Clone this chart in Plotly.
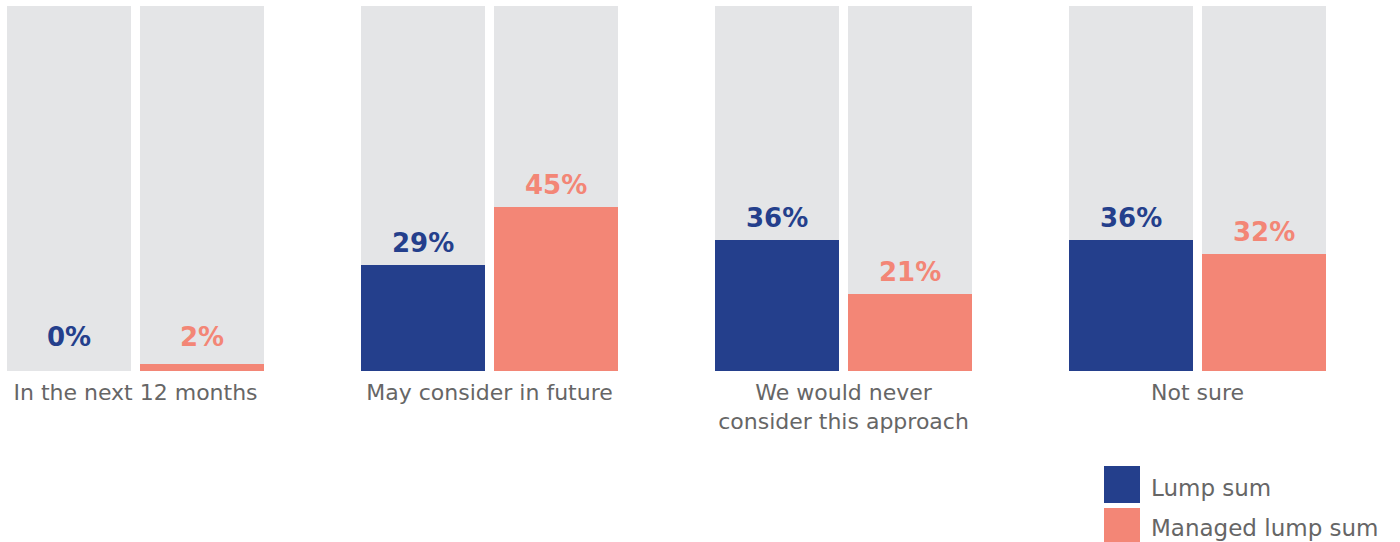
import plotly.graph_objects as go

# Survey responses: share of schemes by approach (percent)
categories = ["In the next 12 months", "May consider in future",
              "We would never<br>consider this approach", "Not sure"]
series_names = ["Lump sum", "Managed lump sum"]
lump_sum = [0, 29, 36, 36]
managed_lump_sum = [2, 45, 21, 32]
full_scale = [100, 100, 100, 100]

NAVY = "#243F8C"
SALMON = "#F38676"
GREY = "#E4E5E7"
TEXT = "#666666"
FONT = "DejaVu Sans"

offset = 0.1879
bar_w = 0.3503
idx = list(range(len(categories)))
x_lump = [i - offset for i in idx]
x_man = [i + offset for i in idx]

fig = go.Figure()

# grey 100% tracks behind each bar
for xs in (x_lump, x_man):
    fig.add_trace(go.Bar(x=xs, y=full_scale, width=bar_w, marker_color=GREY,
                         marker_line_width=0, showlegend=False, hoverinfo="skip"))

fig.add_trace(go.Bar(x=x_lump, y=lump_sum, width=bar_w, marker_color=NAVY,
                     marker_line_width=0, name=series_names[0], showlegend=False))
fig.add_trace(go.Bar(x=x_man, y=managed_lump_sum, width=bar_w, marker_color=SALMON,
                     marker_line_width=0, name=series_names[1], showlegend=False))

# value labels above each bar
for xs, vals, col in ((x_lump, lump_sum, NAVY), (x_man, managed_lump_sum, SALMON)):
    for x, v in zip(xs, vals):
        fig.add_annotation(x=x, y=max(v, 3.3), text=f"<b>{v}%</b>", showarrow=False,
                           yanchor="middle", yshift=22,
                           font=dict(family=FONT, size=26, color=col))

# legend drawn as swatches + labels
legend_rows = [(-0.2603, -0.3616, -0.3205), (-0.3753, -0.4740, -0.4301)]
for (y0, y1, yt), name, col in zip(legend_rows, series_names, (NAVY, SALMON)):
    fig.add_shape(type="rect", xref="paper", yref="paper",
                  x0=1104 / 1400, x1=1140 / 1400, y0=y1, y1=y0,
                  fillcolor=col, line_width=0)
    fig.add_annotation(xref="paper", yref="paper", x=1149 / 1400, y=yt,
                       text=name, showarrow=False, xanchor="left", yanchor="middle",
                       font=dict(family=FONT, size=23, color=TEXT))

fig.update_layout(
    barmode="overlay",
    width=1400, height=542,
    margin=dict(l=0, r=0, t=6, b=171),
    paper_bgcolor="white", plot_bgcolor="white",
    font=dict(family=FONT, size=22, color=TEXT),
    xaxis=dict(range=[-0.3828, 3.5720], tickvals=idx, ticktext=categories,
               showgrid=False, zeroline=False, showline=False, ticks="",
               ticklabelstandoff=6,
               tickfont=dict(family=FONT, size=22, color=TEXT), fixedrange=True),
    yaxis=dict(range=[0, 100], visible=False, fixedrange=True),
    bargap=0,
)

fig.write_html("out.html")
